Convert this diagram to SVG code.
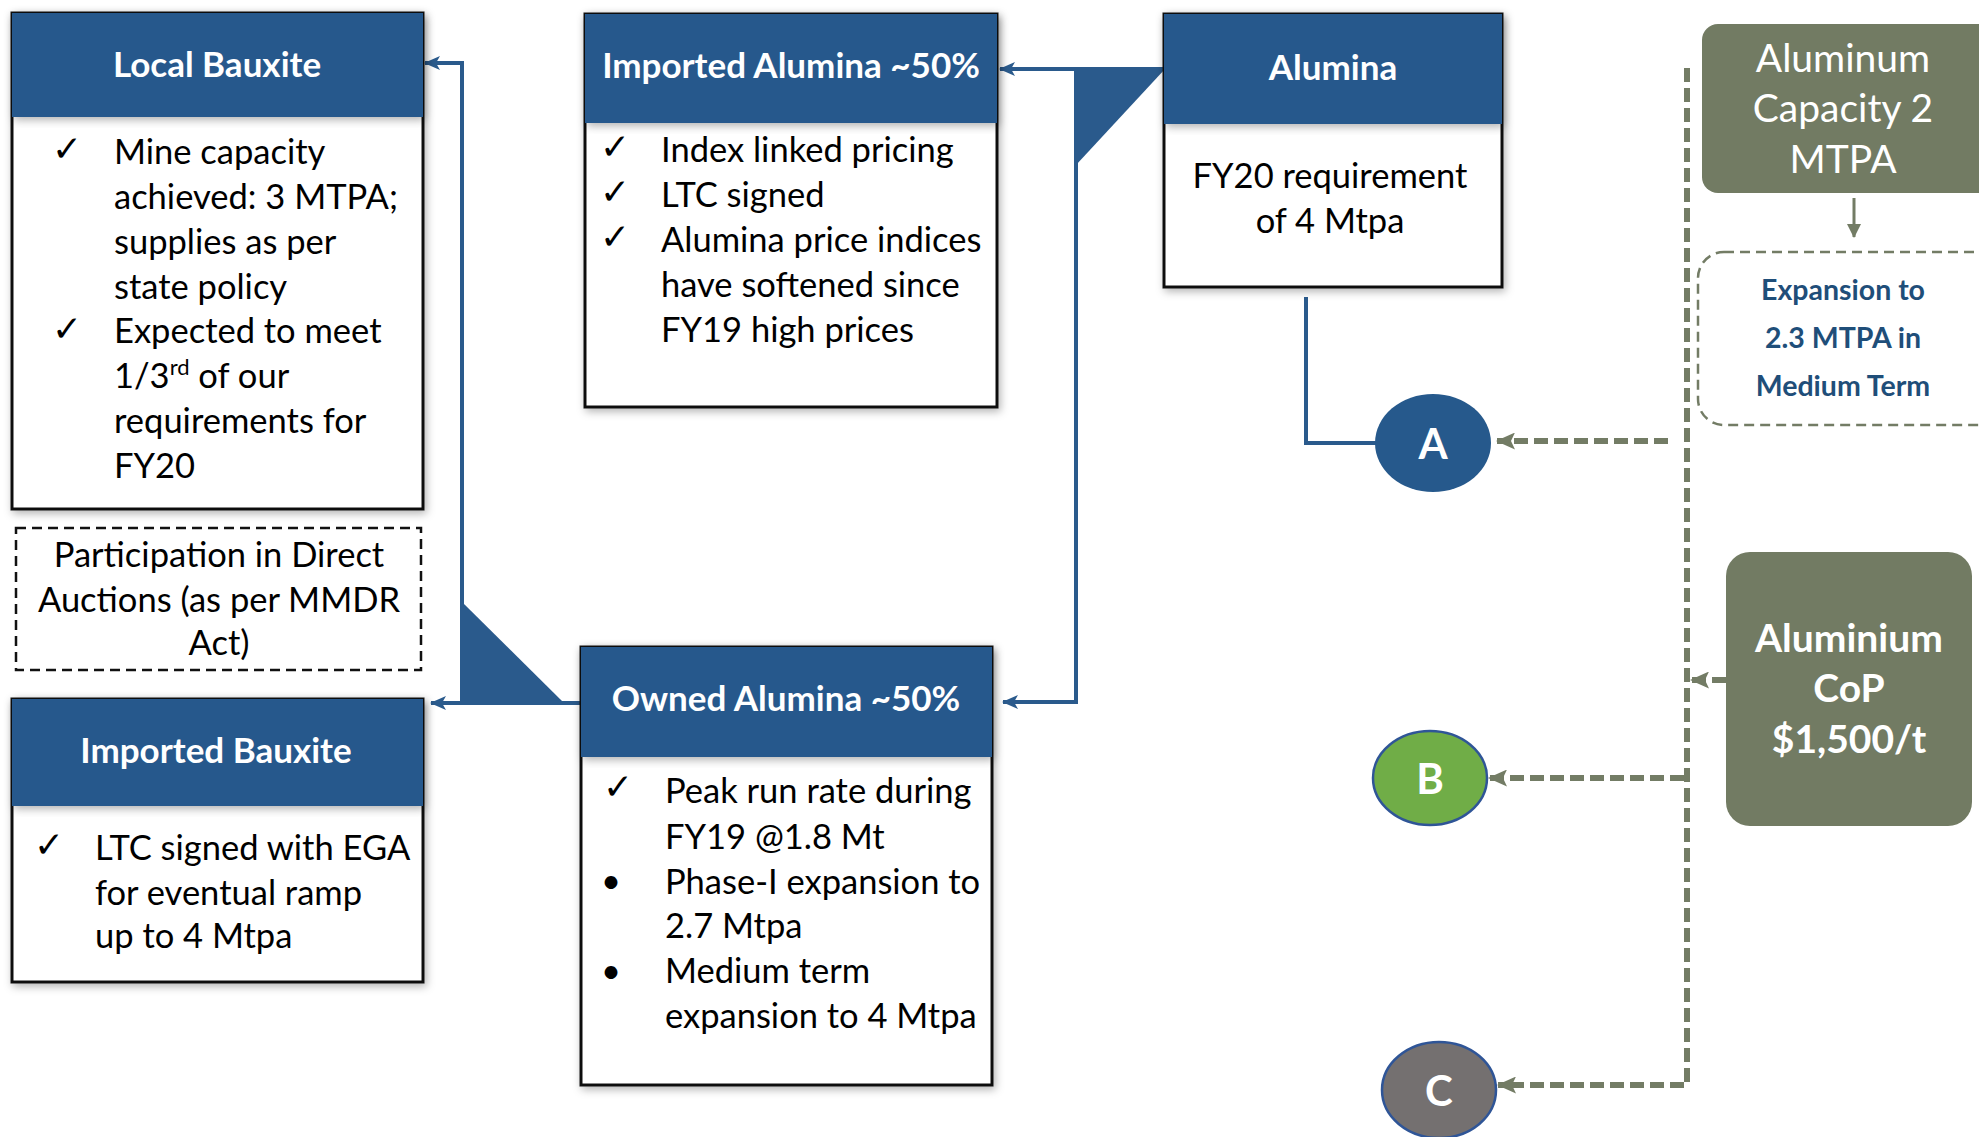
<svg xmlns="http://www.w3.org/2000/svg" width="1979" height="1137" viewBox="0 0 1979 1137">
<style>
text{font-family:Lato,"Liberation Sans",sans-serif;}
.box{fill:#fff;stroke:#111;stroke-width:3;}
.hdr{fill:#26598C;}
.ht{fill:#fff;font-weight:bold;font-size:35px;text-anchor:middle;}
.bt{fill:#000;font-size:34.5px;}
.ck{fill:#000;font-family:"DejaVu Sans",sans-serif;font-size:36px;}
.blue{stroke:#2A5A8C;stroke-width:4;fill:none;}
.grn{stroke:#737C65;stroke-width:6;fill:none;stroke-dasharray:14 6;}
.gbox{fill:#727B63;}
.circ{font-weight:bold;font-size:42px;fill:#fff;text-anchor:middle;}
</style>
<defs>
<filter id="sh" x="-10%" y="-10%" width="120%" height="120%">
<feDropShadow dx="2" dy="3" stdDeviation="4" flood-color="#000" flood-opacity="0.3"/>
</filter>
<marker id="ab" viewBox="0 0 16 14" refX="15" refY="7" markerWidth="16" markerHeight="14" markerUnits="userSpaceOnUse" orient="auto">
<path d="M0,0 L16,7 L0,14 L4,7 z" fill="#2A5A8C"/>
</marker>
<marker id="ag" viewBox="0 0 19 17" refX="18" refY="8.5" markerWidth="19" markerHeight="17" markerUnits="userSpaceOnUse" orient="auto">
<path d="M0,0 L19,8.5 L0,17 L4,8.5 z" fill="#737C65"/>
</marker>
<marker id="ag2" viewBox="0 0 14 14" refX="13" refY="7" markerWidth="14" markerHeight="14" markerUnits="userSpaceOnUse" orient="auto">
<path d="M0,0 L14,7 L0,14 z" fill="#737C65"/>
</marker>
</defs>
<rect width="1979" height="1137" fill="#fff"/>

<g id="connectors">
<polygon points="462,602 462,703 564,703" fill="#2A5A8C"/>
<polygon points="1076,69 1165,69 1076,165" fill="#2A5A8C"/>
<line class="blue" x1="581" y1="703" x2="431" y2="703" marker-end="url(#ab)"/>
<polyline class="blue" points="462,703 462,63 425,63" marker-end="url(#ab)"/>
<line class="blue" x1="1164" y1="69" x2="1000" y2="69" marker-end="url(#ab)"/>
<polyline class="blue" points="1076,69 1076,702 1003,702" marker-end="url(#ab)"/>
<polyline class="blue" points="1306,297 1306,443 1380,443" stroke-width="3.5"/>
<polyline class="grn" points="1687,68 1687,1085 1498,1085" marker-end="url(#ag)"/>
<line class="grn" x1="1668" y1="441" x2="1497" y2="441" marker-end="url(#ag)"/>
<line class="grn" x1="1684" y1="778" x2="1489" y2="778" marker-end="url(#ag)"/>
<line class="grn" x1="1726" y1="680" x2="1691" y2="680" marker-end="url(#ag)" stroke-dasharray="none"/>
<line x1="1854" y1="198" x2="1854" y2="237" stroke="#737C65" stroke-width="3" marker-end="url(#ag2)"/>
</g>

<g id="local-bauxite">
<rect class="box" x="12" y="13" width="411" height="496" filter="url(#sh)"/>
<rect class="hdr" x="12" y="13" width="411" height="104" filter="url(#sh)"/>
<text class="ht" x="217" y="77">Local Bauxite</text>
<text class="ck" x="52" y="161">✓</text>
<text class="ck" x="52" y="341">✓</text>
<text class="bt" x="114" y="164">Mine capacity</text>
<text class="bt" x="114" y="209">achieved: 3 MTPA;</text>
<text class="bt" x="114" y="254">supplies as per</text>
<text class="bt" x="114" y="299">state policy</text>
<text class="bt" x="114" y="343">Expected to meet</text>
<text class="bt" x="114" y="388">1/3<tspan font-size="22" dy="-13">rd</tspan><tspan dy="13"> of our</tspan></text>
<text class="bt" x="114" y="433">requirements for</text>
<text class="bt" x="114" y="478">FY20</text>
</g>

<g id="direct-auctions">
<rect x="16" y="528" width="405" height="142" fill="#fff" stroke="#111" stroke-width="2.5" stroke-dasharray="10 6"/>
<text class="bt" x="219" y="567" text-anchor="middle">Participation in Direct</text>
<text class="bt" x="219" y="612" text-anchor="middle">Auctions (as per MMDR</text>
<text class="bt" x="219" y="655" text-anchor="middle">Act)</text>
</g>

<g id="imported-bauxite">
<rect class="box" x="12" y="699" width="411" height="283" filter="url(#sh)"/>
<rect class="hdr" x="12" y="699" width="411" height="107" filter="url(#sh)"/>
<text class="ht" x="216" y="763">Imported Bauxite</text>
<text class="ck" x="34" y="857">✓</text>
<text class="bt" x="95" y="860">LTC signed with EGA</text>
<text class="bt" x="95" y="905">for eventual ramp</text>
<text class="bt" x="95" y="948">up to 4 Mtpa</text>
</g>

<g id="imported-alumina">
<rect class="box" x="585" y="14" width="412" height="393" filter="url(#sh)"/>
<rect class="hdr" x="585" y="14" width="412" height="109" filter="url(#sh)"/>
<text class="ht" x="791" y="78">Imported Alumina ~50%</text>
<text class="ck" x="600" y="159">✓</text>
<text class="ck" x="600" y="204">✓</text>
<text class="ck" x="600" y="249">✓</text>
<text class="bt" x="661" y="162">Index linked pricing</text>
<text class="bt" x="661" y="207">LTC signed</text>
<text class="bt" x="661" y="252">Alumina price indices</text>
<text class="bt" x="661" y="297">have softened since</text>
<text class="bt" x="661" y="342">FY19 high prices</text>
</g>

<g id="owned-alumina">
<rect class="box" x="581" y="647" width="411" height="438" filter="url(#sh)"/>
<rect class="hdr" x="581" y="647" width="411" height="110" filter="url(#sh)"/>
<text class="ht" x="786" y="711">Owned Alumina ~50%</text>
<text class="ck" x="603" y="799">✓</text>
<text class="bt" x="611" y="893" text-anchor="middle">•</text>
<text class="bt" x="611" y="983" text-anchor="middle">•</text>
<text class="bt" x="665" y="803">Peak run rate during</text>
<text class="bt" x="665" y="849">FY19 @1.8 Mt</text>
<text class="bt" x="665" y="894">Phase-I expansion to</text>
<text class="bt" x="665" y="938">2.7 Mtpa</text>
<text class="bt" x="665" y="983">Medium term</text>
<text class="bt" x="665" y="1028">expansion to 4 Mtpa</text>
</g>

<g id="alumina">
<rect class="box" x="1164" y="14" width="338" height="273" filter="url(#sh)"/>
<rect class="hdr" x="1164" y="14" width="338" height="110" filter="url(#sh)"/>
<text class="ht" x="1333" y="80">Alumina</text>
<text class="bt" x="1330" y="188" text-anchor="middle">FY20 requirement</text>
<text class="bt" x="1330" y="233" text-anchor="middle">of 4 Mtpa</text>
</g>

<g id="node-a">
<ellipse cx="1433" cy="443" rx="58" ry="49" fill="#26598C"/>
<text class="circ" x="1433" y="459">A</text>
</g>
<g id="node-b">
<ellipse cx="1430" cy="778" rx="57" ry="47" fill="#70AD47" stroke="#2F5597" stroke-width="2.5"/>
<text class="circ" x="1430" y="794">B</text>
</g>
<g id="node-c">
<ellipse cx="1439" cy="1090" rx="57" ry="48" fill="#747070" stroke="#2F5597" stroke-width="2.5"/>
<text class="circ" x="1439" y="1106">C</text>
</g>

<g id="aluminum-capacity">
<rect class="gbox" x="1702" y="24" width="300" height="169" rx="16"/>
<text x="1843" y="72" fill="#fff" font-size="39" text-anchor="middle">Aluminum</text>
<text x="1843" y="122" fill="#fff" font-size="39" text-anchor="middle">Capacity 2</text>
<text x="1843" y="173" fill="#fff" font-size="39" text-anchor="middle">MTPA</text>
</g>

<g id="expansion">
<rect x="1698" y="252" width="310" height="173" rx="26" fill="#fff" stroke="#737C65" stroke-width="2.5" stroke-dasharray="10 6"/>
<text x="1843" y="300" fill="#1F4E79" font-weight="bold" font-size="28.5" text-anchor="middle">Expansion to</text>
<text x="1843" y="348" fill="#1F4E79" font-weight="bold" font-size="28.5" text-anchor="middle">2.3 MTPA in</text>
<text x="1843" y="396" fill="#1F4E79" font-weight="bold" font-size="28.5" text-anchor="middle">Medium Term</text>
</g>

<g id="aluminium-cop">
<rect class="gbox" x="1726" y="552" width="246" height="274" rx="24"/>
<text x="1849" y="652" fill="#fff" font-weight="bold" font-size="39" text-anchor="middle">Aluminium</text>
<text x="1849" y="702" fill="#fff" font-weight="bold" font-size="39" text-anchor="middle">CoP</text>
<text x="1849" y="753" fill="#fff" font-weight="bold" font-size="39" text-anchor="middle">$1,500/t</text>
</g>
</svg>
